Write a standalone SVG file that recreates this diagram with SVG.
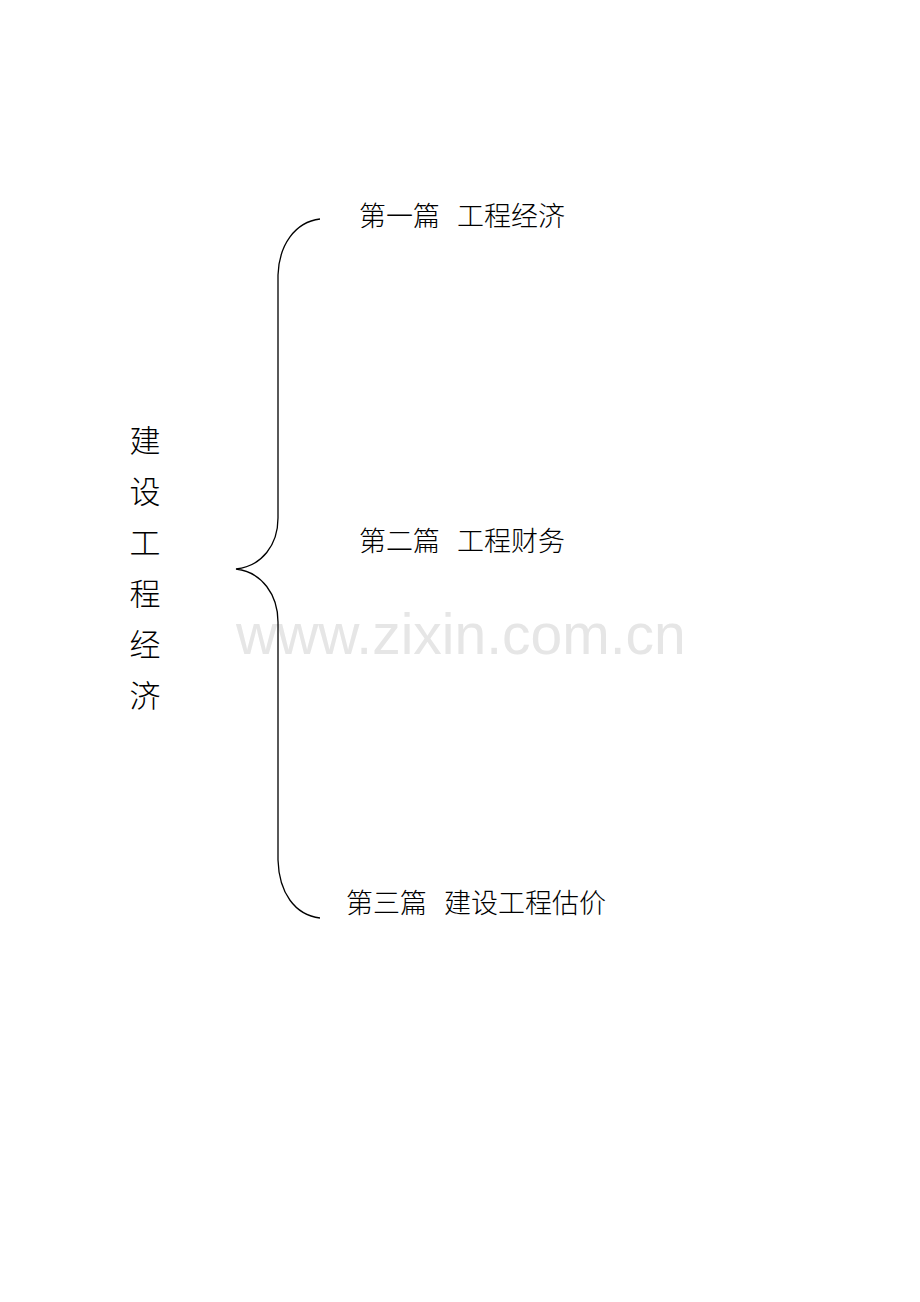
<svg xmlns="http://www.w3.org/2000/svg" width="920" height="1302" viewBox="0 0 920 1302">
<style>
.t{font-family:"Noto Sans CJK SC","Liberation Serif",sans-serif;font-size:27px;font-weight:300;fill:#000}
.v{font-family:"Noto Sans CJK SC","Liberation Serif",sans-serif;font-size:31px;font-weight:300;fill:#000;text-anchor:middle}
.wm{font-family:"Liberation Sans",Arial,sans-serif;font-size:57px;fill:#e6e6e6}
</style>
<rect width="920" height="1302" fill="#fff"/>
<text class="wm" x="236" y="654">www.zixin.com.cn</text>
<g id="connectors">
<path d="M320,219 C295,222 279,245 278,275 L278,518 C278,545 262,566 236,569 C262,572 278,595 278,622 L278,860 C279,893 295,915 320,918" fill="none" stroke="#000" stroke-width="1.3"/>
</g>
<g id="root">
<text class="v" x="145" y="452">建</text>
<text class="v" x="145" y="503">设</text>
<text class="v" x="145" y="554">工</text>
<text class="v" x="145" y="605">程</text>
<text class="v" x="145" y="656">经</text>
<text class="v" x="145" y="707">济</text>
</g>
<g id="part1">
<text class="t" y="226"><tspan x="359">第一篇</tspan><tspan x="457">工程经济</tspan></text>
</g>
<g id="part2">
<text class="t" y="551"><tspan x="359">第二篇</tspan><tspan x="457">工程财务</tspan></text>
</g>
<g id="part3">
<text class="t" y="913"><tspan x="346">第三篇</tspan><tspan x="444">建设工程估价</tspan></text>
</g>
</svg>
